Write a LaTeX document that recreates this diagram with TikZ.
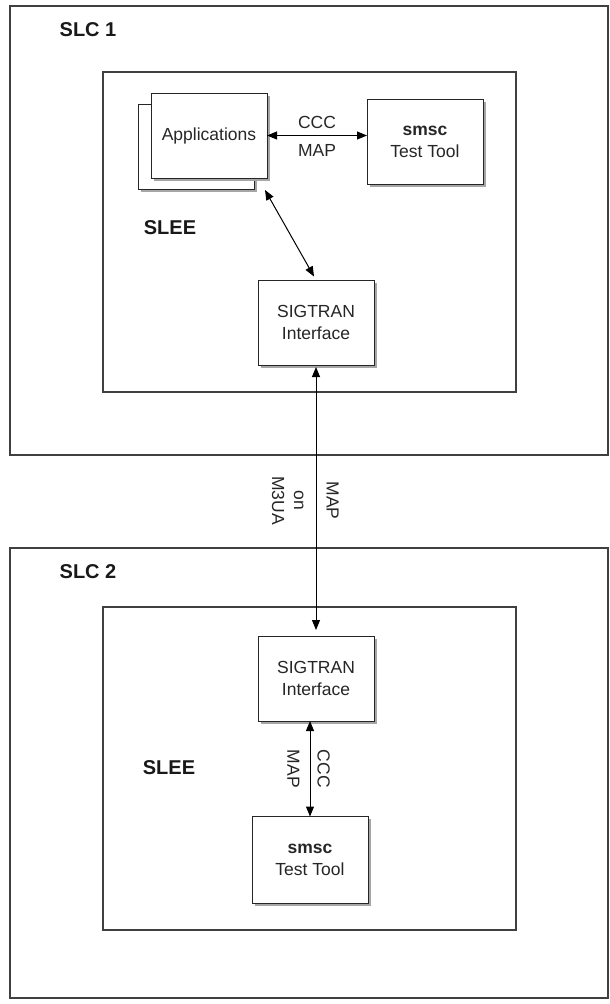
\documentclass[tikz,border=0pt]{standalone}
\usepackage{fontspec}
\setmainfont{Liberation Sans}
\usetikzlibrary{positioning, arrows.meta, shadows}
\tikzset{>={Triangle[length=10pt, width=8pt]},
	frame/.style={draw=black!75, line width=1.2pt, inner sep=0pt, outer sep=0pt},
	unit/.style={draw=black!85, line width=1pt, fill=white, inner sep=0pt, outer sep=0pt, minimum width=116pt, minimum height=85pt, align=center, text=black!85, font=\fontsize{17.5}{22}\selectfont, drop shadow={shadow xshift=2.5pt, shadow yshift=-2.5pt, fill=black!35, opacity=1}},
	title/.style={text=black!90, font=\fontsize{20}{24}\selectfont\bfseries},
	tag/.style={text=black!85, align=center, font=\fontsize{17.5}{22}\selectfont}}
\begin{document}
\begin{tikzpicture}[x=1pt, y=-1pt, line width=1pt]
	\useasboundingbox (0,0) rectangle (610,1004);
	\node[frame, minimum width=598pt, minimum height=449pt] (slc1) at (309,230.5) {};
	\node[frame, minimum width=413pt, minimum height=320pt] (slee1) at (309.5,232) {};
	\node[title] (slc1name) at (88,30) {SLC 1};
	\node[title] (slee1name) at (170,228) {SLEE};
	\node[unit] (appsback) at (196,147) {};
	\node[unit] (apps) at (209,135.5) {Applications};
	\node[unit] (tool1) at (425,141.5) {\textbf{smsc}\\Test Tool};
	\node[unit] (sig1) at (316,322.5) {SIGTRAN\\Interface};
	\coordinate (appsfoot) at (265,190);
	\node[frame, minimum width=598pt, minimum height=450pt] (slc2) at (309,773) {};
	\node[frame, minimum width=413pt, minimum height=323pt] (slee2) at (309.5,768.5) {};
	\node[title] (slc2name) at (88,572) {SLC 2};
	\node[title] (slee2name) at (169,768) {SLEE};
	\node[unit] (sig2) at (316,678.5) {SIGTRAN\\Interface};
	\node[unit, minimum height=87pt] (tool2) at (310,860) {\textbf{smsc}\\Test Tool};
	\draw[<->]
		(apps.east) -- (apps.east -| tool1.west) node[tag, midway, above, inner sep=6pt] {CCC} node[tag, midway, below, inner sep=8pt] {MAP};
	\draw[<->, shorten >=4pt] (appsfoot) -- (sig1.north);
	\draw[<->, shorten <=2pt, shorten >=6pt]
		(sig1.south) -- (sig2.north) node[tag, midway, rotate=-90, anchor=south, inner sep=10pt] {MAP} node[tag, midway, rotate=-90, anchor=north, inner sep=12pt] {on\\M3UA};
	\draw[<->]
		(tool2.north |- sig2.south) -- (tool2.north) node[tag, midway, rotate=-90, anchor=south, inner sep=7pt] {CCC} node[tag, midway, rotate=-90, anchor=north, inner sep=10pt] {MAP};
\end{tikzpicture}
\end{document}
